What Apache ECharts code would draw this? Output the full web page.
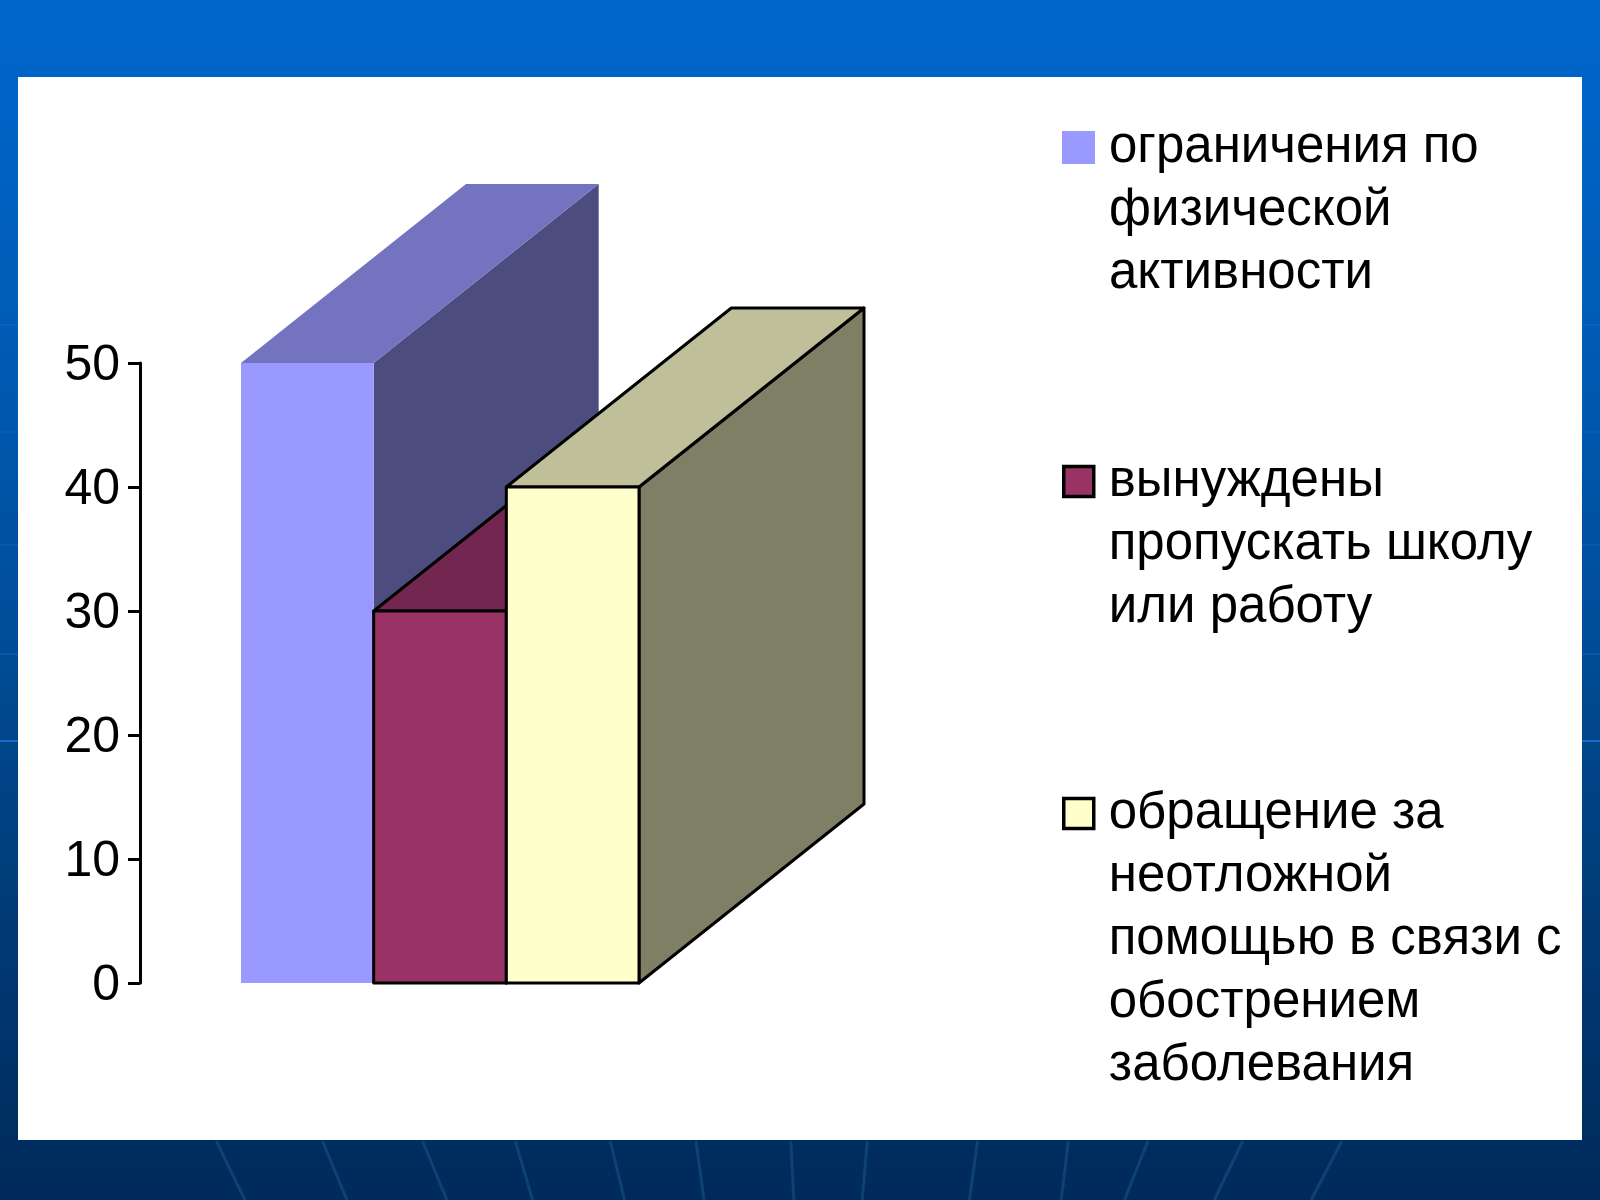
<!DOCTYPE html>
<html><head><meta charset="utf-8">
<style>html,body{margin:0;padding:0;background:#003a78}#c{width:1600px;height:1200px}</style>
<script src="https://cdn.jsdelivr.net/npm/echarts@6/dist/echarts.min.js"></script>
</head><body><div id="c"></div>
<script>
const seriesNames = [
  'ограничения по\nфизической\nактивности',
  'вынуждены\nпропускать школу\nили работу',
  'обращение за\nнеотложной\nпомощью в связи с\nобострением\nзаболевания'
];
const values = [50, 30, 40];
const frontColors = ['#9999FF', '#993366', '#FFFFCC'];
const topColors = ['#7373BF', '#732650', '#BFBF99'];
const sideColors = ['#4C4C7F', '#4C1933', '#7F7F66'];
const outlined = [false, true, true];
const yTicks = [0, 10, 20, 30, 40, 50];

const FONT = '"Liberation Sans", Arial, sans-serif';
const DEPTH_X = 225, DEPTH_Y = 179;

function renderBar(params, api) {
  const i = params.seriesIndex;
  const base = api.coord([api.value(0), 0]);
  const top = api.coord([api.value(0), api.value(1)]);
  const w = api.size([1, 0])[0];
  const x0 = base[0] - w / 2, x1 = base[0] + w / 2, y0 = base[1], y1 = top[1];
  const st = outlined[i] ? { stroke: '#000', lineWidth: 3, lineJoin: 'round' } : { stroke: null };
  const poly = (pts, fill) => ({ type: 'polygon', shape: { points: pts }, style: Object.assign({ fill }, st) });
  return {
    type: 'group',
    children: [
      poly([[x1, y0], [x1 + DEPTH_X, y0 - DEPTH_Y], [x1 + DEPTH_X, y1 - DEPTH_Y], [x1, y1]], sideColors[i]),
      poly([[x0, y1], [x1, y1], [x1 + DEPTH_X, y1 - DEPTH_Y], [x0 + DEPTH_X, y1 - DEPTH_Y]], topColors[i]),
      poly([[x0, y0], [x1, y0], [x1, y1], [x0, y1]], frontColors[i])
    ]
  };
}

const streaks = [[212,240],[316,340],[414,438],[505,522],[598,612],[682,690],[775,778],[850,845],[958,950],[1047,1040],[1125,1102],[1218,1190],[1315,1285]];
const sideLines = [[325,.2],[432,.15],[545,.2],[654,.25],[741,.7]];
const decor = [];
streaks.forEach(s => decor.push({ type: 'line', silent: true, z: -2,
  shape: { x1: s[0] * 1.0204, y1: 1141, x2: s[1] * 1.0204, y2: 1200 },
  style: { stroke: 'rgba(45,115,175,0.3)', lineWidth: 3 } }));
sideLines.forEach(s => {
  [[0, 18], [1582, 1600]].forEach(r => decor.push({ type: 'line', silent: true, z: -2,
    shape: { x1: r[0], y1: s[0], x2: r[1], y2: s[0] },
    style: { stroke: 'rgba(50,120,230,' + s[1] + ')', lineWidth: 2 } }));
});
decor.push({ type: 'rect', silent: true, z: -1, shape: { x: 18, y: 77, width: 1564, height: 1063 }, style: { fill: '#fff' } });

function legendFor(i, top) {
  const lines = seriesNames[i].split('\n').length;
  return {
    left: 1062, top, padding: 0, selectedMode: false, itemWidth: i ? 30 : 33, itemHeight: i ? 30 : 33,
    formatter: n => '\n'.repeat(lines - 1) + n,
    textStyle: { fontFamily: FONT, fontSize: 51, lineHeight: 63, color: '#000', padding: [6, 0, 0, i ? 10 : 9] },
    data: [{ name: seriesNames[i], icon: 'rect',
      itemStyle: { color: frontColors[i], borderColor: outlined[i] ? '#000' : 'transparent', borderWidth: outlined[i] ? 3.5 : 0 } }]
  };
}

const chart = echarts.init(document.getElementById('c'), null, { renderer: 'canvas', width: 1600, height: 1200 });
chart.setOption({
  animation: false,
  backgroundColor: { type: 'linear', x: 0, y: 0, x2: 0, y2: 1, colorStops: [
    { offset: 0, color: '#0066CC' }, { offset: 0.25, color: '#005DB8' }, { offset: 0.5, color: '#004F9C' },
    { offset: 0.75, color: '#003C78' }, { offset: 1, color: '#002A5A' }] },
  graphic: decor,
  legend: [legendFor(0, -13), legendFor(1, 321), legendFor(2, 527)],
  grid: { left: 241, top: 363, width: 398, height: 620 },
  xAxis: { type: 'category', data: seriesNames.map((_, i) => i), show: false },
  yAxis: { type: 'value', min: 0, max: 50, interval: 10, offset: 101,
    axisLine: { show: true, lineStyle: { color: '#000', width: 3 } },
    axisTick: { show: true, length: 12, lineStyle: { color: '#000', width: 3 } },
    splitLine: { show: false },
    axisLabel: { margin: 20,
      rich: { t: { fontFamily: FONT, fontSize: 50, color: '#000', padding: [7, 0, 0, 0] } },
      formatter: v => yTicks.includes(v) ? '{t|' + v + '}' : '' } },
  series: seriesNames.map((name, i) => ({
    type: 'custom', name, renderItem: renderBar, clip: false,
    itemStyle: { color: frontColors[i] },
    encode: { x: 0, y: 1 },
    data: [[i, values[i]]]
  }))
});
</script></body></html>
